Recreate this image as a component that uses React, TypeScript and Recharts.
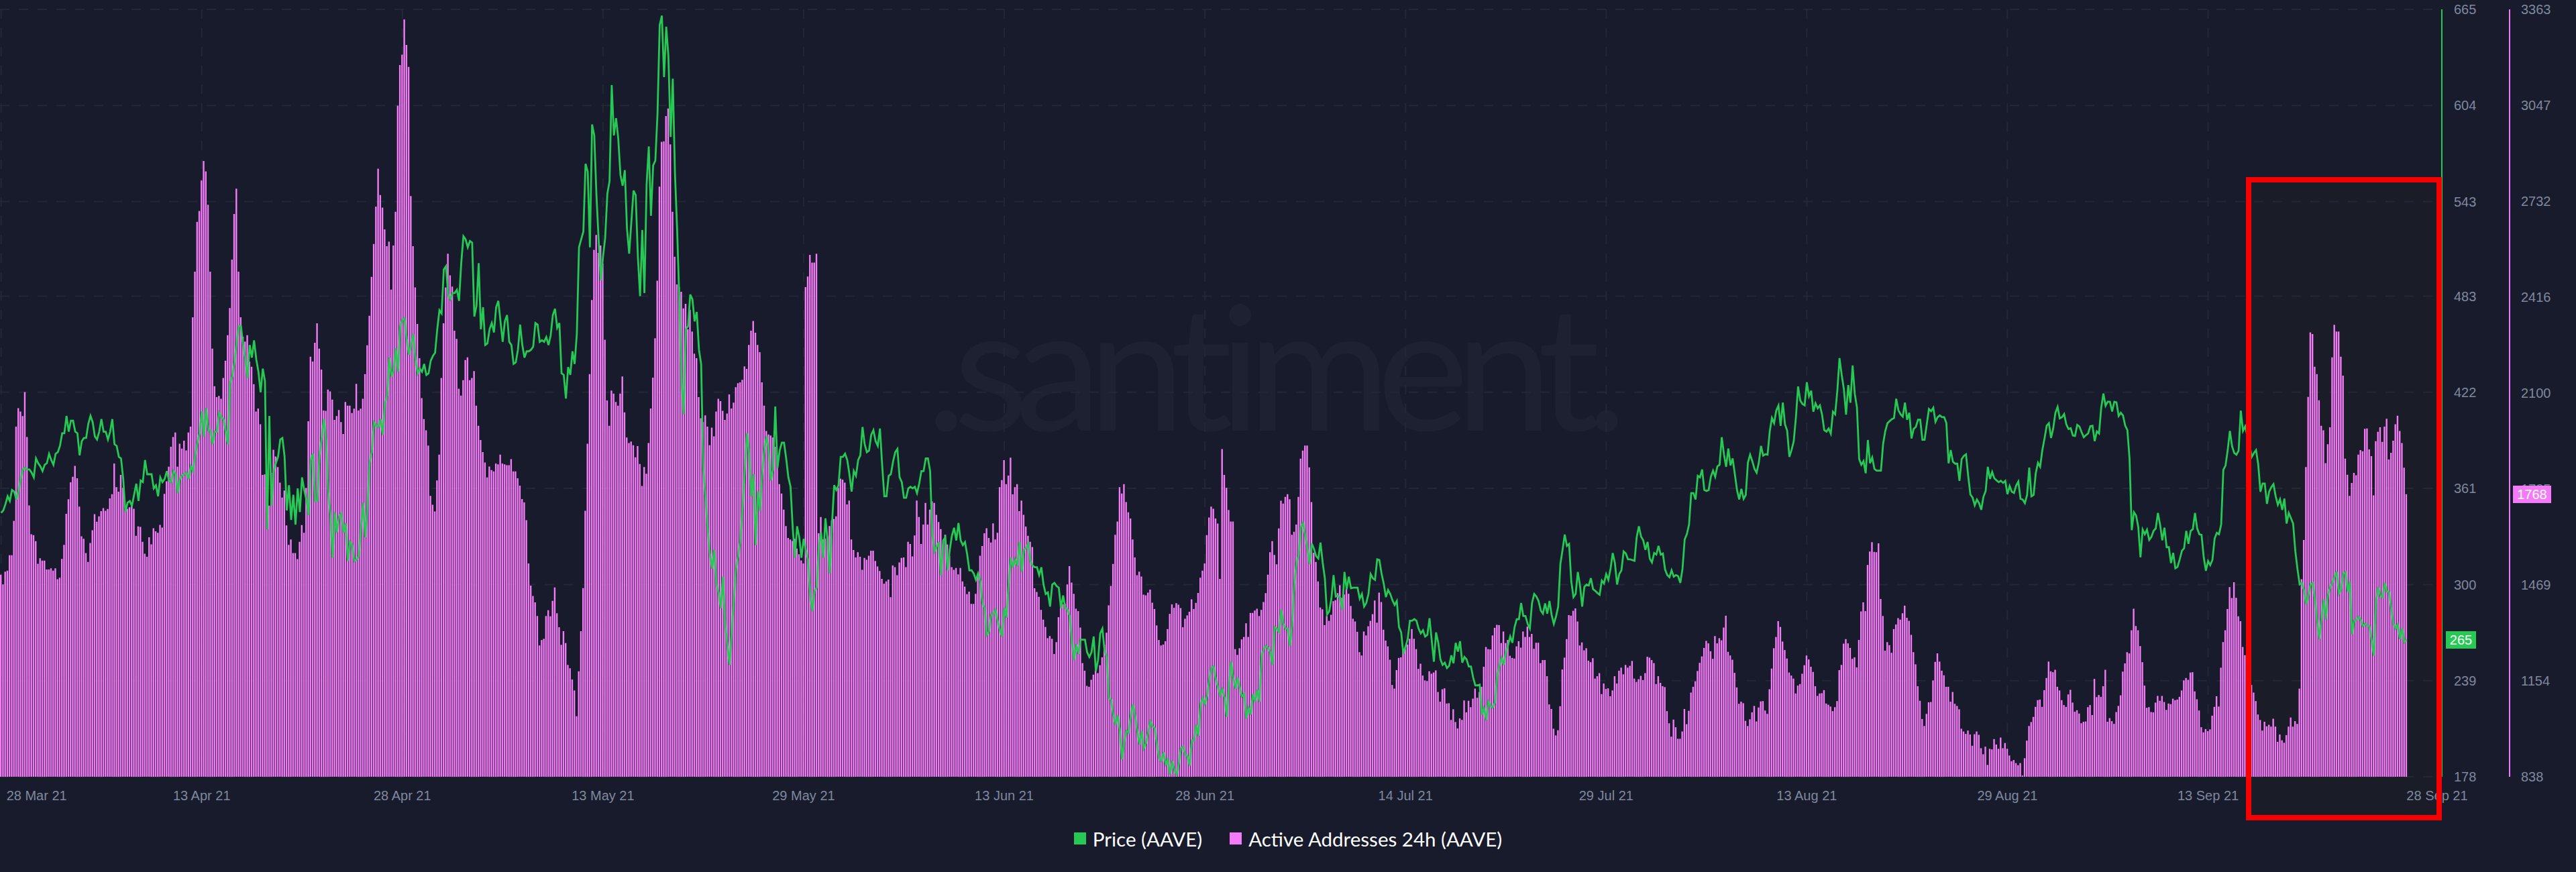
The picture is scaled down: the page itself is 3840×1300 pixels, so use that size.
import React from "react"
import { ComposedChart, Bar, Line, XAxis, YAxis, CartesianGrid, Legend } from "recharts"

const green = "#26c953"
const pink = "#f47bf7"
const tickColor = "#7f889e"

// 4-hourly readings, one pair of lists per stretch of the picture
const activeA = [1503,1471,1513,1516,1567,1567,1680,1990,2051,2040,2025,2104,1956,1731,1636,1633,1613,1539,1557,1549,1549,1520,1520,1524,1516,1524,1488,1493,1555,1601,1703,1751,1807,1825,1861,1820,1727,1629,1621,1574,1545,1607,1649,1702,1677,1695,1712,1722,1713,1719,1754,1768,1869,1791,1776,1831,1789,1715,1720,1725,1730,1720,1631,1662,1660,1611,1572,1562,1626,1603,1656,1646,1641,1667,1658,1769,1810,1858,1924,1956,1971,1858,1934,1918,1944,1912,1971,1990,2350,2500,2664,2700,2800,2864,2830,2720,2500,2247,2123,2087,2091,2082,2150,2207,2291,2380,2540,2690,2773,2500,2350,2286,2270,2291,2204,2187,2130,2040,2050,1998,1831,1833,1784,1730,1838,1914,1892,1857,1806,1757,1780,1665,1601,1619,1574,1574,1554,1611,1666,1641,1788,2008,2220,2204,2266,2330,2247,2178,2043,2042,2112,2106,2079,2012]
const priceA = [345.5,347,351,356,353,360,359,354,360,367,373,374,373,373,371,368,380,377,375,372,376,377,383,379,376,383,384,388,396,396,407,397,404,404,397,396,382,391,393,393,402,407,403,394,392,397,405,397,397,392,397,405,389,388,381,380,367,346,352,353,350,357,364,353,366,365,379,370,370,370,361,363,356,368,365,367,372,366,365,372,370,358,367,369,370,371,367,375,372,382,390,396,410,394,412,398,398,389,397,397,409,406,405,397,389,428,432,441,454,464,464,452,443,431,452,444,455,443,435,422,437,429,335,407,350,372,377,381,392,393,381,347,363,341,357,338,361,346,368,360,354,344,379,383,353,353,382,393,405,392,359,344,317,346]

const activeB = [2025,2045,2005,1966,2071,2059,2059,2035,2049,2131,2043,2049,2082,2163,2258,2355,2483,2591,2714,2839,2752,2711,2639,2584,2599,2441,2586,2697,3046,3180,3214,3330,3246,3174,2749,2584,2448,2328,2215,2084,2015,1978,1928,1762,1733,1711,1813,1898,2150,2330,2448,2559,2488,2451,2306,2279,2115,2092,2143,2209,2218,2143,2150,2173,2059,1993,1946,1906,1872,1823,1859,1847,1843,1869,1866,1898,1869,1866,1863,1863,1883,1843,1843,1820,1796,1752,1741,1682,1540,1467,1433,1412,1367,1270,1288,1292,1367,1386,1366,1417,1461,1376,1330,1272,1317,1278,1206,1195,1158,1122,1037,1185,1317,1459,1713,1934,2163,2407,2572,2621,2562,2586,2527,2276,2076,1993,2109,2099,2071,2059,2099,2155,2037,1954,1936,1941,1929,1889,1926,1867,1795,1857,1835,1936,2050,2151,2281,2470,2780,2927,2929,3012,3037,2919,2697,2549,2458,2450,2434,2379,2394,2310,2375,2303,2230,2215,2087,2018,2005,2027,1990,1929,1987,1958,2040,2082,2074,2042,2012,2033,2096,2050,2069,2120,2133]
const priceB = [333,343,345,333,339,315,327,325,315,316,318,335,352,330,349,377.5,384,403,401,400,405,395,415,420,444,432,436,450,435,464,468,469,456,446,452,459,443,434,437,435,440,433,434,442,445,447,462,474,472,500,502,484,481,485,485,487,480,504,521,519,514,518,517,470,477,504,462,476,452,453,462,466,460,476,480,467,454,467,471,454,452,440,441,449,465,452,444,448,448,449,451,466,465,454,455,454,457,452,458,471,475,463,466,434,433,418,438,433,448,440,459,514,519,524,567,562,514,592,585,547,519,493,508,520,548,556,617,585,596,583,560,553,563,526,510,530,550,547,508,483,525,485,554,578,534,566,569,599,655,661,622,654,635,584,621,561,525,481,430,408,462,464,484,481,467,473,449,440,373,355,335,320,310,322,300,295,285,305,275,262,249,270,290,310,318]

const activeC = [2136,2144,2188,2180,2259,2306,2338,2299,2259,2235,2136,2059,1976,1964,1961,1954,1924,1895,1801,1770,1717,1663,1624,1619,1614,1621,1589,1570,1550,1540,2449,2484,2555,2530,2530,2559,1639,1693,1619,1622,1629,1663,1681,1686,1695,1789,1819,1816,1806,1734,1747,1619,1584,1560,1577,1562,1519,1558,1552,1565,1582,1582,1548,1530,1515,1489,1473,1481,1487,1429,1533,1528,1501,1543,1558,1560,1528,1611,1604,1563,1632,1747,1693,1604,1668,1739,1668,1717,1744,1739,1700,1676,1653,1601,1634,1602,1565,1528,1519,1525,1504,1525,1481,1464,1439,1447,1407,1407,1440,1506,1565,1597,1639,1656,1624,1609,1672,1619,1641,1791,1814,1880,1801,1829,1888,1767,1791,1801,1712,1747,1700,1661,1631,1611,1594,1458,1446,1430,1387,1355,1331,1294,1301,1292,1242,1281,1363,1415,1405,1407,1471,1531,1477,1440,1391,1383,1329,1212,1187,1137,1134,1157,1174,1188,1179,1205,1231,1273,1312,1402,1466,1538,1634,1678,1791,1770,1801,1742,1708,1688,1619,1560,1501,1513,1497,1437,1435,1444,1454,1411,1390,1336,1288,1270,1273,1284,1324,1374,1405,1394,1409,1404,1393,1330,1358,1369,1381,1422,1390,1410,1443,1493,1516,1540]
const priceC = [328,349,372,396,383,356,370,325,359,347,370,386,394,385,366,373,413,374,385,390,390,380,368,362,336,317,337,330,317,329,322,316,294,283,296,298,325,333,317,342,328,307,338,363,360,363,381,381,383,379,370,359,372,369,379,382,400,389,384,385,395,398,391,388,399,376,356,356,369,370,378,384,386,368,365,355,355,361,362,361,362,358,364,372,372,380,380,372,332,321,324,327,306,328,330,309,322,331,336,328,339,328,325,327,319,309,309,307,303,307,302,288,285,268,270,281,281,284,277,271,267,285,279,301,317,311,316,312,327,308,322,323,326,315,312,311,311,306,311,300,294,295,286,300,301,299,298,285,293,285,284,280,264,252,262,256,265,265,265,257,254,257,267,245,252,269,272,258,254,228,227,217,211,217,208,189,200,207,206,217,224,217,207,198.5,207,196,199,206,213,210,209,198.5,190,188,193.5,186,189,179.5,188,182,179.5,186,196,197,192,191,185,201,201,211,204,224,228,224]

const activeD = [1633,1691,1727,1720,1688,1671,1489,1916,1831,1789,1716,1678,1678,1258,1239,1261,1290,1298,1343,1298,1377,1377,1385,1391,1367,1387,1413,1442,1503,1577,1613,1568,1537,1655,1746,1737,1759,1768,1751,1634,1644,1668,1759,1885,1911,1928,1928,1856,1742,1575,1545,1481,1395,1389,1337,1367,1351,1371,1416,1419,1442,1468,1427,1438,1457,1440,1400,1358,1349,1315,1248,1237,1316,1303,1333,1351,1373,1418,1345,1444,1413,1322,1286,1267,1223,1140,1128,1189,1229,1231,1254,1258,1273,1292,1324,1292,1258,1193,1210,1171,1155,1153,1185,1177,1181,1188,1117,1085,1126,1129,1079,1080,1025,1060,1018,997,1030,1025,1089,1050,1088,1067,1095,1128,1098,1117,1134,1200,1265,1258,1257,1303,1328,1338,1337,1278,1316,1278,1288,1236,1229,1227,1267,1284,1263,1316,1298,1332,1298,1308,1259,1279,1279,1212]
const priceD = [229,239.5,247,248,240,235,230,233.5,228,216,235.4,251,241,234,241,235,229,230.5,215,221.5,217.5,230.5,225.6,233,225.6,255,259,261,260,257,249,273,272,270,284,275,272,272,261,274,300.6,314,318.5,336.4,339,331,323,313,326,322.6,318,316.5,326.6,314,304,281,283,291,306,292.4,293,291.6,284,308,297,305,297.6,298,298,298,291,294,286,288.3,294,306.6,304,303,316,315.6,307,300.6,292,296.5,294,290,287,289.5,273,269.6,256,260.6,265.5,277,277,278,277,272,269,271,267,268,278.6,264.7,251,269.6,263,252.5,249,250.4,247,248.4,255,250,263,257.4,264,250.4,254,252.5,248,248,241,236,236,236.5,217.4,221.5,214,225.6,223,222,225,242,248.4,253.3,249,257.4,261.4,267,263,273,278,278,288.3,280,280,275,272,288.3,294,292.4,289.5,283.5]

const activeE = [1222,1222,1169,1076,1061,996,974,991,1070,1191,1230,1291,1370,1368,1384,1392,1349,1270,1280,1254,1261,1220,1215,1228,1161,1169,1179,1110,1145,1127,1129,1103,1122,1169,1145,1187,1197,1175,1206,1197,1203,1219,1161,1150,1159,1170,1156,1179,1233,1230,1222,1212,1143,1169,1147,1136,1133,1054,1014,970,1026,1001,963,963,987,1061,1011,1055,1115,1134,1152,1186,1213,1234,1262,1285,1277,1251,1226,1301,1277,1294,1287,1329,1368,1249,1237,1223,1180,1132,1078,1085,1080,1022,1005,1027,1050,1071,1020,1066,1086,1087,1056,1045,1126,1194,1261,1298,1350,1331,1283,1255,1227,1181,1171,1161,1112,1138,1143,1177,1205,1237,1224,1200,1183,1136,1104,1112,1113,1123,1079,1075,1069,1054,1067,1087,1189,1206,1276,1291,1277,1262,1226,1231,1198,1288,1382,1412,1383,1535,1579,1610,1578,1577]
const priceE = [281.5,288,281.5,289.5,280.6,275,279.7,286,313,322,331.7,324.5,325.7,302,292,294,308,299.4,286,298.5,300,299.4,304,297,296,294.6,293.5,302.5,300.7,306.6,303,310,320,313.7,300,306.6,309,321,319.7,316,316,315.5,315,330,337,330.4,328,322,327,316.4,314,320,319,324.5,319,319.7,309.6,306,304.6,309,305,306,305.3,301,310,328.6,332,338,358,358,354,369,368,373,360,359.4,360,368.4,372.3,368.4,375,376,393.5,382.7,374.7,386.3,375.6,380,370,360,354,360.7,354.4,356.8,377.4,382.4,378.3,373.4,371,377.4,388,381.8,382.7,382.4,397,405.7,402.4,410.5,413.6,400.7,415.5,401.6,397.6,381,385.4,390.8,406,425.7,416.8,414.6,413.7,428.4,419.5,423,409.6,415,411.8,413.7,407.8,398,397,399,395.8,409.6,408,423,443.7,433,424,407.8,426.6,415.4,439,421,412.3,379.7,376,378.3,370.6,391.7,377,380.6,373.4,372.3]

const activeF = [1606,1423,1367,1253,1281,1271,1246,1324,1339,1360,1355,1376,1401,1361,1351,1305,1248,1208,1136,1088,1028,1005,1045,1083,1084,1155,1216,1244,1217,1187,1172,1134,1134,1085,1117,1078,1071,1060,996,987,979,990,977,940,978,987,976,932,912,937,877,930,928,962,944,930,967,932,949,930,908,889,893,883,876,883,842,899,957,1005,1018,1035,1068,1090,1092,1068,1123,1163,1217,1185,1182,1190,1134,1122,1090,1074,1068,1109,1124,1082,1052,1057,1046,1014,1019,1020,1067,1074,1041,1160,1100,1107,1101,1136,1190,1019,1031,1021,1012,1051,1071,1106,1184,1211,1248,1244,1320,1391,1334,1320,1268,1215,1138,1065,1067,1051,1050,1082,1104,1088,1104,1084,1058,1079,1077,1095,1090,1092,1101,1122,1155,1163,1157,1181,1182,1119,1093,1056,1001,984,995,988,994,1039,1068,1103,1069,1197,1281,1320,1390]
const priceF = [372.3,372.3,389.4,397.5,402.4,403.7,404.9,405.7,417.9,410.6,408,406.5,415.5,404.6,409,392.7,398.8,400,404.6,404.6,391.9,391.9,401.6,411.4,410,412.2,403.3,406.2,407.3,406.2,406.2,402.4,376.9,385.3,378,376.7,376.7,365.8,379.6,381.6,382.6,369,357.1,355.2,350.3,353.9,351.6,347.4,355.7,359.2,374.7,367,371.5,367.4,366.1,365,365.8,364.5,365.8,357.3,362.5,358.9,358.1,362.8,365.3,354.4,353.9,351.6,356.8,374.2,356,356.8,370.7,377.2,374.7,385.3,392.7,400.8,402.4,393,399.2,409,412.7,405.4,406.2,408.2,401.6,398.7,399.2,394.6,394.3,401.3,400.3,396.7,393.5,394.8,395.9,400.5,400.8,391,397.2,395.9,412.2,421.2,413.5,416,416,409.8,416,415.6,407,409,407.3,400.8,398,379.6,334.5,345.9,343.8,336.4,317.2,334.8,331.9,334.8,328.3,330.2,334,335.6,345.4,338,328,336.1,323.7,323.7,313.6,320.1,310.3,311.2,316,321.4,323,334,325.8,334,335.1,345.4,335.6,331.9,331.5,317.4,308.7,314.9,312.3,315.6,329.1,332.8,331.9,338,372.8,375.5,385.3]

const activeG = [1462,1426,1478,1427,1366,1350,1265,1238,1210,1170,1140,1115,1087,1043,1025,990,1019,1004,1009,1003,1029,1003,953,977,958,950,975,1003,1033,1003,1021,1012,1128,1488,1617,1857,2088,2300,2295,2187,2163,2077,1993,1978,1870,1932,1988,2218,2325,2303,2303,2220,2158,1885,1832,1762,1805,1838,1830,1898,1913,1909,1983,1984,1915,1893,1764,1942,1973,1988,1940,1990,2016,1882,1904,1944,1998,2026,1976,1936,1855,1768]
const priceG = [397.5,387.8,383.4,382.4,384.9,410.4,397.5,400.4,394.6,388.8,381,383.4,385.3,376.2,358.9,364.1,364.1,351.2,358.9,361.8,363.7,356,350.6,354.1,347.3,354.5,338.7,345.4,342.1,338.7,321.3,309.7,300.1,301,296.2,287.6,293.3,300.1,301,290.5,277,265.4,278.9,290.5,277.9,293.3,298.2,301,304.9,308.2,294.3,297.2,306.8,307.8,295.3,302,268.3,277,277.4,279.5,277.9,273.7,275,274.1,273.5,264.4,254.8,289.5,298.2,292.8,292,301,295.9,295.3,284.7,275,272.1,274.6,265.4,272.1,263.5,265]

const xTickIndex = [0,92,184,276,368,460,552,644,736,828,920,1012,1103]
const xTickLabels = ["28 Mar 21","13 Apr 21","28 Apr 21","13 May 21","29 May 21","13 Jun 21","28 Jun 21","14 Jul 21","29 Jul 21","13 Aug 21","29 Aug 21","13 Sep 21","28 Sep 21"]
const priceTicks = [178,239,300,361,422,483,543,604,665]
const activeTicks = [838,1154,1469,1785,2100,2416,2732,3047,3363]
const legendItems = [{ name: "Price (AAVE)", color: green }, { name: "Active Addresses 24h (AAVE)", color: pink }]

const stretches = [[activeA,priceA],[activeB,priceB],[activeC,priceC],[activeD,priceD],[activeE,priceE],[activeF,priceF],[activeG,priceG]]

// keep both series lined up stretch by stretch
const chartData: any[] = []
stretches.forEach(([a, p]) => {
  const n = Math.max(a.length, p.length)
  for (let k = 0; k < n; k++) {
    chartData.push({ i: chartData.length, active: a[k] ?? null, price: p[k] ?? null })
  }
})

const lastPrice = priceG[priceG.length - 1]
const lastActive = activeG[activeG.length - 1]

function XTick({ x, y, payload }: any) {
  const pos = xTickIndex.indexOf(payload.value)
  const first = pos === 0
  const last = pos === xTickIndex.length - 1
  return (
    <text x={first ? x + 8 : last ? x : x} y={y} dy={27} textAnchor={first || last ? "start" : "middle"} fill={tickColor} fontSize={20} fontFamily="Liberation Sans">
      {xTickLabels[pos]}
    </text>
  )
}

function LegendRow() {
  return (
    <div style={{ display: "flex", justifyContent: "center", alignItems: "center", height: 100, gap: 41, fontFamily: "Lato", fontSize: 29.5, color: "#fff" }}>
      {legendItems.map((item) => (
        <span key={item.name} style={{ display: "flex", alignItems: "center", gap: 10 }}>
          <span style={{ width: 18, height: 18, background: item.color, display: "inline-block" }} />
          {item.name}
        </span>
      ))}
    </div>
  )
}

const tagStyle = { position: "absolute", top: 0, height: 26, lineHeight: "26px", textAlign: "center", color: "#fff", fontSize: 20, fontFamily: "Liberation Sans" } as const

export default function App() {
  return (
    <div style={{ position: "absolute", left: 0, top: 0, width: 3840, height: 1300, background: "#181b2b", overflow: "hidden" }}>
      <div style={{ position: "absolute", left: 1380, top: 392, fontFamily: "Lato", fontWeight: 400, fontSize: 259, letterSpacing: -20, lineHeight: "300px", color: "#1d2131", whiteSpace: "nowrap" }}>.santiment.</div>
      <div style={{ position: "absolute", left: 3348, top: 264, width: 292, height: 959, background: "rgba(37,47,30,0.15)" }} />
      <ComposedChart width={3840} height={1300} data={chartData} margin={{ top: 14, right: 0, bottom: 0, left: 0 }} style={{ position: "absolute", left: 0, top: 0 }}>
        <CartesianGrid
          yAxisId="a_price"
          stroke="#232736"
          strokeWidth={2}
          strokeDasharray="14 14"
          verticalCoordinatesGenerator={() => xTickIndex.slice(0, -1).map((t) => (t + 0.5) * (3589 / chartData.length))}
        />
        <XAxis dataKey="i" type="category" ticks={xTickIndex} interval={0} height={42} padding={{ left: 0, right: 51 }} axisLine={false} tickLine={false} tick={<XTick />} />
        <YAxis yAxisId="a_price" orientation="right" domain={[178, 665]} ticks={priceTicks} interval={0} width={101} axisLine={{ stroke: green, strokeWidth: 2 }} tickLine={false} tickMargin={12} tick={{ fill: tickColor, fontSize: 20, fontFamily: "Liberation Sans" }} />
        <YAxis yAxisId="b_active" orientation="right" domain={[838, 3363]} ticks={activeTicks} interval={0} width={99} axisLine={{ stroke: pink, strokeWidth: 2 }} tickLine={false} tickMargin={11} tick={{ fill: tickColor, fontSize: 20, fontFamily: "Liberation Sans" }} />
        <Bar yAxisId="b_active" dataKey="active" name="Active Addresses 24h (AAVE)" fill={pink} barSize={2.4} isAnimationActive={false} />
        <Line yAxisId="a_price" dataKey="price" name="Price (AAVE)" stroke={green} strokeWidth={2.8} dot={false} connectNulls strokeLinejoin="miter" isAnimationActive={false} />
        <Legend height={100} verticalAlign="bottom" content={<LegendRow />} />
      </ComposedChart>
      <div style={{ position: "absolute", left: 3348, top: 264, width: 292, height: 959, boxSizing: "border-box", border: "8px solid #f60000" }} />
      <div style={{ ...tagStyle, left: 3646, top: 941, width: 45, background: green }}>{lastPrice}</div>
      <div style={{ ...tagStyle, left: 3746, top: 724, width: 57, background: pink }}>{lastActive}</div>
    </div>
  )
}
